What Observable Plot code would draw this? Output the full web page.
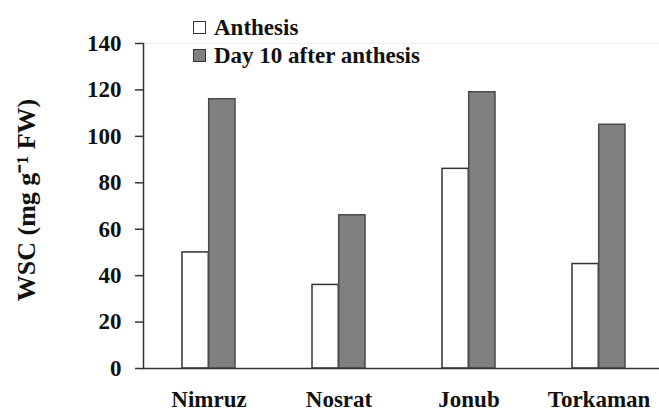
<!DOCTYPE html>
<html>
<head>
<meta charset="utf-8">
<script src="https://cdn.jsdelivr.net/npm/d3@7"></script>
<script src="https://cdn.jsdelivr.net/npm/@observablehq/plot@0.6"></script>
<style>
  html, body { margin: 0; padding: 0; background: #fff; overflow: hidden; }
  #wrap { position: relative; width: 659px; height: 409px; }
  .leg { position: absolute; font-family: 'Liberation Serif', serif; font-weight: bold;
         font-size: 23px; line-height: 28px; color: #111; white-space: nowrap; }
  .sw { position: absolute; width: 11px; height: 11px; border: 1.5px solid #333; }
</style>
</head>
<body>
<div id="wrap"></div>
<script>
const categories = ["Nimruz", "Nosrat", "Jonub", "Torkaman"];
const seriesNames = ["Anthesis", "Day 10 after anthesis"];
const anthesis = [50, 36, 86, 45];
const day10 = [116, 66, 119, 105];
const yTicks = [0, 20, 40, 60, 80, 100, 120, 140];
const yLabel = "WSC (mg g\u207B\u00B9 FW)";

const dataA = categories.map((c, i) => ({cat: c, v: anthesis[i]}));
const dataB = categories.map((c, i) => ({cat: c, v: day10[i]}));

const halfBar = 53.4 / 2;

const chart = Plot.plot({
  width: 659,
  height: 409,
  marginLeft: 143,
  marginRight: -5,
  marginTop: 43,
  marginBottom: 41,
  style: {
    fontFamily: "'Liberation Serif', serif",
    fontWeight: "bold",
    fontSize: "23px",
    color: "#111",
    background: "#fff",
    overflow: "visible"
  },
  x: { domain: categories, paddingInner: 0.59, paddingOuter: 0.295, axis: null },
  y: { domain: [0, 140], axis: null },
  marks: [
    Plot.ruleY([140], {stroke: "#eee", strokeWidth: 1}),
    Plot.barY(dataA, {x: "cat", y: "v", insetRight: halfBar, fill: "#fff", stroke: "#333", strokeWidth: 1.5}),
    Plot.barY(dataB, {x: "cat", y: "v", insetLeft: halfBar, fill: "#808080", stroke: "#4a4a4a", strokeWidth: 1.5}),
    Plot.frame({anchor: "left", stroke: "#333", strokeWidth: 1.5}),
    Plot.ruleY([0], {stroke: "#333", strokeWidth: 1.5}),
    Plot.axisY({ticks: yTicks, tickSize: 8, tickPadding: 14, tickFormat: d => String(d), label: null, stroke: "#333", strokeWidth: 1.5}),
    Plot.axisX({tickSize: 0, tickPadding: 22, label: null}),
    Plot.text([yLabel], {frameAnchor: "left", textAnchor: "middle", lineAnchor: "middle", dx: -117, dy: -6, rotate: -90, text: d => d, fontSize: 26, fill: "#111"})
  ]
});

const wrap = document.getElementById("wrap");
wrap.appendChild(chart);

// legend overlay
const rows = [
  {name: seriesNames[0], fill: "#fff", top: 14.3, sq: 21},
  {name: seriesNames[1], fill: "#808080", top: 42.3, sq: 49}
];
rows.forEach(r => {
  const sw = document.createElement("div");
  sw.className = "sw";
  sw.style.left = "193px";
  sw.style.top = r.sq + "px";
  sw.style.background = r.fill;
  wrap.appendChild(sw);
  const t = document.createElement("div");
  t.className = "leg";
  t.style.left = "214px";
  t.style.top = r.top + "px";
  t.textContent = r.name;
  wrap.appendChild(t);
});
</script>
</body>
</html>
